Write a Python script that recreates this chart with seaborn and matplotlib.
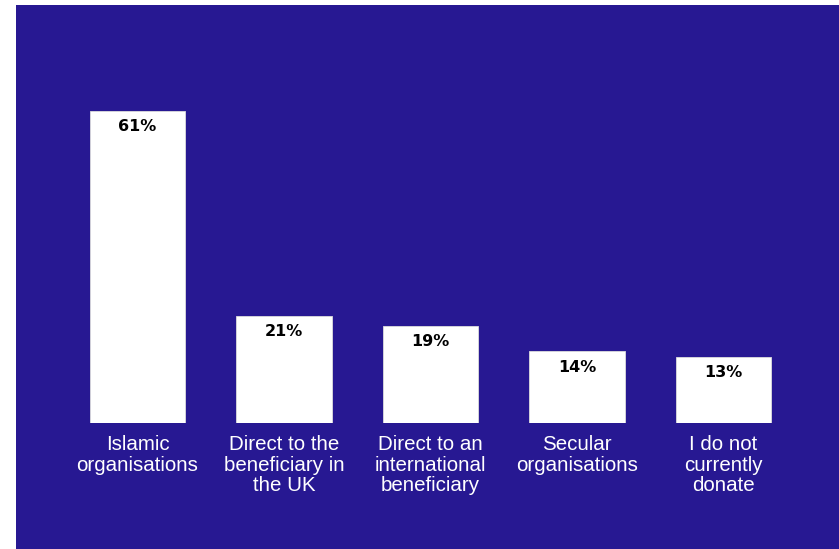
import matplotlib
matplotlib.use("Agg")
import matplotlib.pyplot as plt
import pandas as pd
import seaborn as sns

# chart data
categories = [
    "Islamic\norganisations",
    "Direct to the\nbeneficiary in\nthe UK",
    "Direct to an\ninternational\nbeneficiary",
    "Secular\norganisations",
    "I do not\ncurrently\ndonate",
]
values = [61, 21, 19, 14, 13]

df = pd.DataFrame({"category": categories, "share": values})

bg = "#271892"
W, H = 839, 549

sns.set_theme(style="white")
plt.rcParams["font.family"] = ["Liberation Sans", "DejaVu Sans"]

fig = plt.figure(figsize=(W / 100, H / 100), dpi=100, facecolor="white")
# blue panel behind everything
fig.patches.append(plt.Rectangle((16 / W, 0), 1 - 16 / W, 1 - 5 / H,
                                 transform=fig.transFigure, facecolor=bg,
                                 edgecolor="none", zorder=-10))

left = 64.25 / W
right = 796.75 / W
bottom = 1 - 423 / H
top = 1 - 111 / H
ax = fig.add_axes([left, bottom, right - left, top - bottom])
ax.set_facecolor("none")
ax.set_zorder(1)

sns.barplot(data=df, x="category", y="share", color="white", saturation=1,
            width=0.65, ax=ax, edgecolor="#dddddd", linewidth=0.6)

ax.set_xlim(-0.5, 4.5)
ax.set_ylim(0, 61)
for s in ax.spines.values():
    s.set_visible(False)
ax.set_yticks([])
ax.set_xlabel("")
ax.set_ylabel("")
ax.tick_params(axis="x", length=0, pad=9, labelsize=14.8, labelcolor="white")
for lab in ax.get_xticklabels():
    lab.set_linespacing(1.08)

for i, v in enumerate(values):
    ax.annotate(f"{v}%", (i, v), xytext=(0, -6), textcoords="offset points",
                ha="center", va="top", fontsize=11.5, fontweight="bold",
                color="black", family=["DejaVu Sans"])

fig.savefig("out.png", dpi=100, facecolor="white")
